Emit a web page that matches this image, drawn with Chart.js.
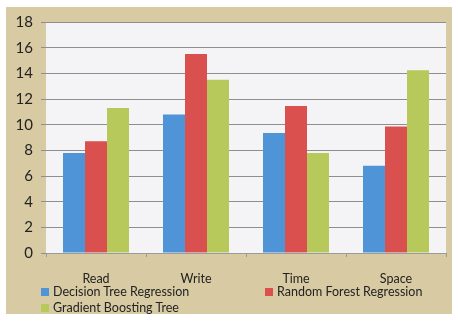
<!DOCTYPE html>
<html>
<head>
<meta charset="utf-8">
<script src="https://cdn.jsdelivr.net/npm/chart.js@4"></script>
<style>
  body { margin: 0; background: #fff; }
  #wrap { position: relative; width: 458px; height: 323px; }
  #panel { position: absolute; left: 6px; top: 7px; width: 446px; height: 307px; background: #d8cba3; }
  canvas { position: absolute; left: 0; top: 0; }
  .leg { position: absolute; font: 12.5px Lato, "Open Sans", sans-serif; color: #222; white-space: nowrap; }
  .leg span { display: inline-block; width: 8px; height: 8px; margin-right: 4px; vertical-align: 0px; }
</style>
</head>
<body>
<div id="wrap">
  <div id="panel"></div>
  <canvas id="chart" width="458" height="323"></canvas>
  <div id="legend"></div>
</div>
<script>
// datos del grafico
const categories = ['Read', 'Write', 'Time', 'Space'];
const seriesNames = ['Decision Tree Regression', 'Random Forest Regression', 'Gradient Boosting Tree'];
const decisionTree = [7.8, 10.8, 9.35, 6.8];
const randomForest = [8.7, 15.5, 11.45, 9.85];
const gradientBoosting = [11.3, 13.5, 7.8, 14.25];
const yTicks = [0, 2, 4, 6, 8, 10, 12, 14, 16, 18];

const colors = ['#4f94d6', '#d9504e', '#b7c95a'];

// fondo del area del grafico
const plotBg = {
    id: 'plotBg',
    beforeDraw(chart) {
        const a = chart.chartArea;
        const c = chart.ctx;
        c.save();
        c.fillStyle = '#f4f4f6';
        c.fillRect(a.left, a.top, a.right - a.left, a.bottom - a.top);
        c.restore();
    }
};

const ctx = document.getElementById('chart').getContext('2d');
const chart = new Chart(ctx, {
    type: 'bar',
    data: {
        labels: categories,
        datasets: [decisionTree, randomForest, gradientBoosting].map((d, i) => ({
            label: seriesNames[i],
            data: d,
            backgroundColor: colors[i],
            borderWidth: 0,
            categoryPercentage: 0.66,
            barPercentage: 1
        }))
    },
    options: {
        responsive: false,
        animation: false,
        layout: { padding: { top: 22, right: 12, left: 0, bottom: 0 } },
        plugins: {
            legend: { display: false },
            tooltip: { enabled: false }
        },
        scales: {
            x: {
                afterFit: (s) => { s.height = 70; },
                grid: { drawOnChartArea: false, offset: true, tickLength: 4, color: '#9a9a9a' },
                border: { color: '#9a9a9a' },
                ticks: { color: '#222', font: { family: 'Lato', size: 12.5 }, padding: 14 }
            },
            y: {
                min: 0,
                max: 18,
                afterFit: (s) => { s.width = 46; },
                afterBuildTicks: (s) => { s.ticks = yTicks.map(v => ({ value: v })); },
                grid: { color: '#8f8f8f', tickLength: 5 },
                border: { display: false },
                ticks: { color: '#222', font: { family: 'Lato', size: 15 }, padding: 8 }
            }
        }
    },
    plugins: [plotBg]
});

// leyenda en html, dos columnas
const legend = document.getElementById('legend');
const legPos = [[41, 284], [265, 284], [41, 300]];
seriesNames.forEach((name, i) => {
    const el = document.createElement('div');
    el.className = 'leg';
    el.style.left = legPos[i][0] + 'px';
    el.style.top = legPos[i][1] + 'px';
    el.innerHTML = `<span style="background:${colors[i]}"></span>${name}`;
    legend.appendChild(el);
});
</script>
</body>
</html>
